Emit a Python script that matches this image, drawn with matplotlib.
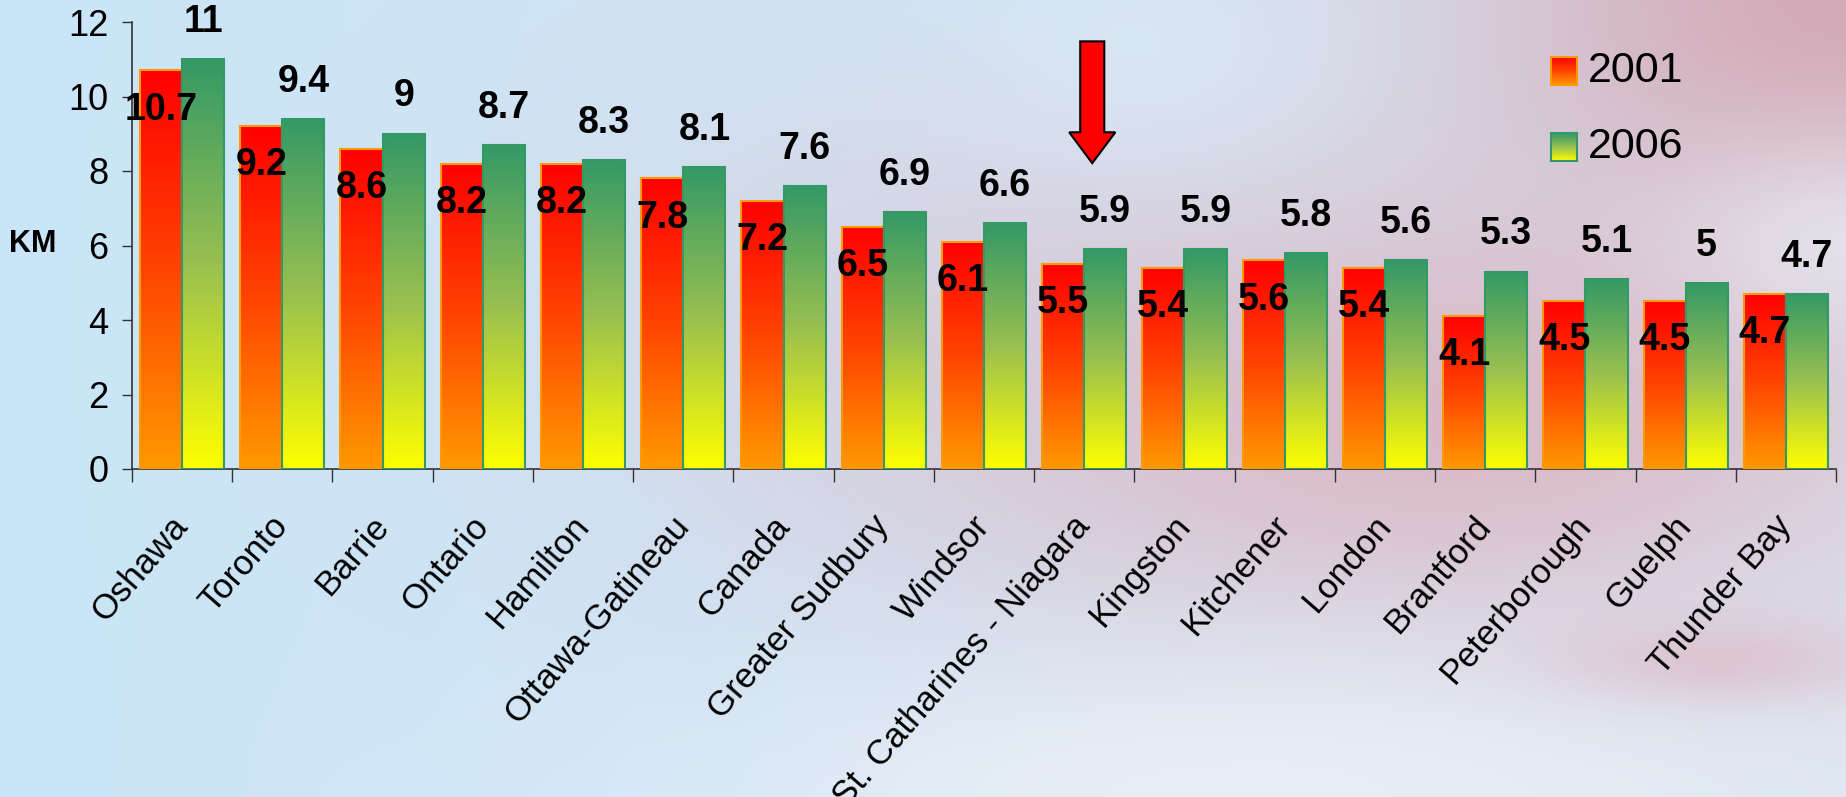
import numpy as np
import matplotlib
matplotlib.use('Agg')
import matplotlib.pyplot as plt
from matplotlib.colors import LinearSegmentedColormap
from matplotlib.patches import FancyArrow

NARROW = ['Liberation Sans Narrow', 'Liberation Sans', 'DejaVu Sans']
plt.rcParams['font.family'] = ['Liberation Sans', 'DejaVu Sans']

# ---- data ----
cities = ["Oshawa", "Toronto", "Barrie", "Ontario", "Hamilton", "Ottawa-Gatineau",
          "Canada", "Greater Sudbury", "Windsor", "St. Catharines - Niagara",
          "Kingston", "Kitchener", "London", "Brantford", "Peterborough",
          "Guelph", "Thunder Bay"]
km_2001 = [10.7, 9.2, 8.6, 8.2, 8.2, 7.8, 7.2, 6.5, 6.1, 5.5, 5.4, 5.6, 5.4, 4.1, 4.5, 4.5, 4.7]
km_2006 = [11, 9.4, 9, 8.7, 8.3, 8.1, 7.6, 6.9, 6.6, 5.9, 5.9, 5.8, 5.6, 5.3, 5.1, 5, 4.7]
years = ["2001", "2006"]
highlight = "St. Catharines - Niagara"

W, H, DPI = 1846, 797, 100

cmap01 = LinearSegmentedColormap.from_list("c01", ["#FF9900", "#FF4400", "#FF0000"])
cmap06 = LinearSegmentedColormap.from_list("c06", ["#FFFF00", "#99C050", "#339966"])
edge01, edge06 = "#FF9900", "#339966"


def background(w, h):
    yy, xx = np.mgrid[0:h, 0:w].astype(float)
    t = (xx / w)[..., None]
    img = np.array([0.79, 0.90, 0.97]) * (1 - t) + np.array([0.86, 0.90, 0.95]) * t
    pink_dk = (0.83, 0.66, 0.71)
    pink = (0.86, 0.71, 0.76)
    lilac = (0.84, 0.81, 0.87)
    white = (0.92, 0.94, 0.97)
    blobs = [
        (980, 330, 420, 280, lilac, 0.65),
        (1450, 420, 480, 220, pink, 0.88),
        (1846, 0, 400, 260, pink_dk, 0.95),
        (1846, 240, 170, 100, white, 0.6),
        (1250, 800, 560, 150, white, 0.92),
        (1720, 660, 170, 45, pink, 0.6),
        (1150, 60, 200, 120, (0.86, 0.92, 0.97), 0.6),
    ]
    for cx, cy, sx, sy, col, s in blobs:
        wgt = s * np.exp(-(((xx - cx) / sx) ** 2 + ((yy - cy) / sy) ** 2))[..., None]
        img = img * (1 - wgt) + np.array(col) * wgt
    return np.clip(img, 0, 1)


fig = plt.figure(figsize=(W / DPI, H / DPI), dpi=DPI)

bg = fig.add_axes([0, 0, 1, 1], zorder=-10)
bg.imshow(background(W, H), aspect='auto', extent=[0, 1, 0, 1])
bg.axis('off')

ax = fig.add_axes([132 / W, 1 - 469 / H, (1836 - 132) / W, (469 - 22) / H])
ax.patch.set_alpha(0)

x = np.arange(len(cities))
bw = 0.42
grad = np.linspace(0, 1, 256).reshape(-1, 1)

for xi, v1, v2 in zip(x, km_2001, km_2006):
    ax.imshow(grad, extent=[xi - bw, xi, 0, v1], origin='lower', aspect='auto',
              cmap=cmap01, zorder=2)
    ax.imshow(grad, extent=[xi, xi + bw, 0, v2], origin='lower', aspect='auto',
              cmap=cmap06, zorder=2)

ax.bar(x - bw / 2, km_2001, width=bw, facecolor='none', edgecolor=edge01, lw=1.5, zorder=3)
ax.bar(x + bw / 2, km_2006, width=bw, facecolor='none', edgecolor=edge06, lw=1.5, zorder=3)

for xi, v1, v2 in zip(x, km_2001, km_2006):
    ax.text(xi - bw / 2, v1 - 1.05, f"{v1:g}", ha='center', va='center', family=NARROW,
            fontsize=27, fontweight='bold', color='black', zorder=5)
    ax.text(xi + bw / 2, v2 + 1.0, f"{v2:g}", ha='center', va='center', family=NARROW,
            fontsize=27, fontweight='bold', color='black', zorder=5)

# arrow on the highlighted city
hi = cities.index(highlight)
ax.add_patch(FancyArrow(hi + 0.08, 11.48, 0, -3.27, width=0.24, head_width=0.46,
                        head_length=0.83, length_includes_head=True,
                        facecolor='#FF0000', edgecolor='black', lw=1.5, zorder=6))

ax.set_xlim(-0.5, len(cities) - 0.5)
ax.set_ylim(0, 12)
ax.set_yticks(np.arange(0, 13, 2))
ax.tick_params(axis='y', labelsize=26, length=7, width=1, pad=10, colors='#333333',
               labelcolor='black')
for lab in ax.get_yticklabels():
    lab.set_family(NARROW)
ax.set_xticks(np.arange(-0.5, len(cities), 1))
ax.set_xticklabels([])
ax.set_xticks(x, minor=True)
ax.set_xticklabels(cities, minor=True, rotation=49, ha='right', va='center',
                   rotation_mode='anchor', fontsize=25)
ax.tick_params(axis='x', which='major', length=9, width=1, colors='#333333')
ax.tick_params(axis='x', which='minor', length=0, pad=37)
for s in ['top', 'right']:
    ax.spines[s].set_visible(False)
for s in ['left', 'bottom']:
    ax.spines[s].set_color('#333333')
    ax.spines[s].set_linewidth(1.2)

fig.text(33 / W, 1 - 244 / H, "KM", ha='center', va='center', fontsize=22,
         fontweight='bold', family=NARROW)

# legend
for i, (yr, cm, ec) in enumerate(zip(years, [cmap01, cmap06], [edge01, edge06])):
    top = 57 + i * 76
    lax = fig.add_axes([1551 / W, 1 - (top + 28) / H, 26 / W, 28 / H])
    lax.imshow(grad, origin='lower', aspect='auto', cmap=cm, extent=[0, 1, 0, 1])
    lax.set_xticks([])
    lax.set_yticks([])
    for sp in lax.spines.values():
        sp.set_color(ec)
        sp.set_linewidth(1.5)
    fig.text(1588 / W, 1 - (top + 14) / H, yr, ha='left', va='center', fontsize=31,
             family=NARROW)

fig.savefig("out.png", dpi=DPI)
